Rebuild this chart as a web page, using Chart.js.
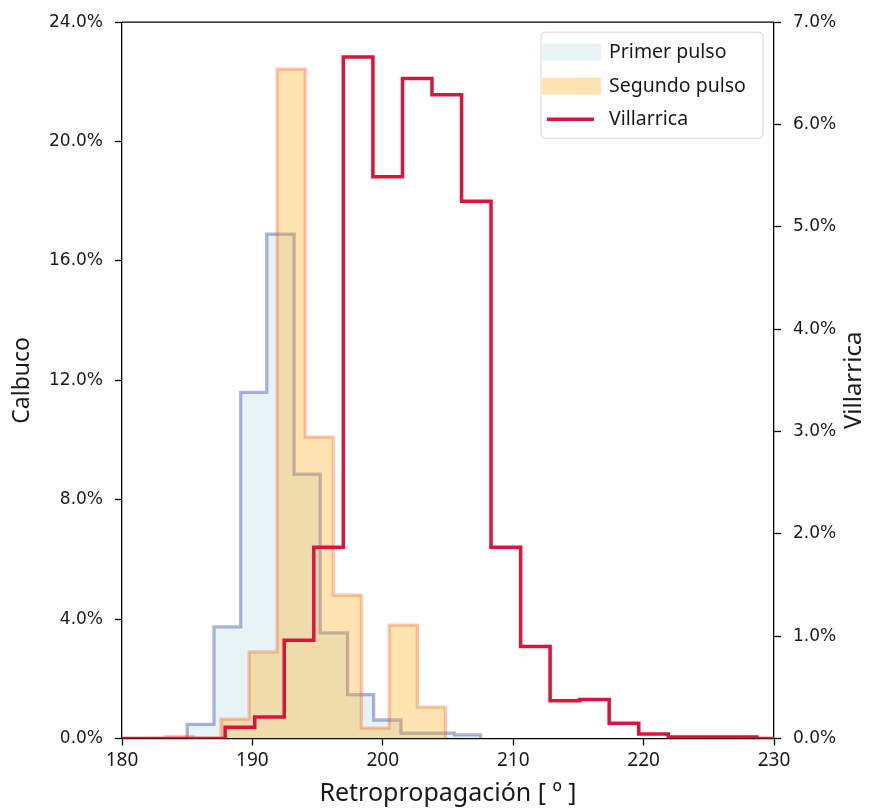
<!DOCTYPE html>
<html><head><meta charset="utf-8">
<script src="https://cdn.jsdelivr.net/npm/chart.js@4/dist/chart.umd.min.js"></script>
<style>html,body{margin:0;padding:0;background:#fff}#wrap{width:869px;height:809px;position:relative}</style>
</head><body><div id="wrap"><canvas id="c" width="869" height="809"></canvas></div>
<script>
// ---- data (percent) ----
const primerEdges  = [185.0, 187.05, 189.1, 191.1, 193.2, 195.2, 197.3, 199.3, 201.4, 203.4, 205.5, 207.5];
const primerValues = [0.47, 3.74, 11.6, 16.9, 8.86, 3.54, 1.47, 0.62, 0.18, 0.18, 0.12];

const segundoEdges  = [183.3, 185.45, 187.6, 189.75, 191.9, 194.05, 196.2, 198.35, 200.5, 202.65, 204.8];
const segundoValues = [0.06, 0.0, 0.65, 2.9, 22.43, 10.1, 4.8, 0.35, 3.8, 1.05];

const villarricaEdges  = [178.85, 181.12, 183.38, 185.65, 187.91, 190.18, 192.44, 194.71, 196.97, 199.24, 201.51, 203.77, 206.04, 208.30, 210.57, 212.83, 215.10, 217.36, 219.63, 221.89, 224.16, 226.42, 228.69, 230.95];
const villarricaValues = [0, 0, 0, 0, 0.11, 0.21, 0.96, 1.87, 6.66, 5.49, 6.45, 6.29, 5.25, 1.87, 0.90, 0.37, 0.38, 0.15, 0.045, 0.015, 0.015, 0.015, 0];

const xTicks = [180, 190, 200, 210, 220, 230];
const leftTicks = [0, 4, 8, 12, 16, 20, 24];
const rightTicks = [0, 1, 2, 3, 4, 5, 6, 7];
const labels = ['Primer pulso', 'Segundo pulso', 'Villarrica'];

function histPoints(edges, values) {
  const pts = [{x: edges[0], y: 0}];
  for (let i = 0; i < values.length; i++) pts.push({x: edges[i], y: values[i]});
  pts.push({x: edges[edges.length - 1], y: 0});
  return pts;
}

const TXT = '#1a1a1a';
const tickFont = {family: 'DejaVu Sans', size: 17};
const titleFamily = 'Noto Sans';

const overlay = {
  id: 'overlay',
  afterDraw(chart) {
    const ctx = chart.ctx, a = chart.chartArea;
    ctx.save();
    // top spine
    ctx.strokeStyle = '#000'; ctx.lineWidth = 1.3;
    ctx.beginPath(); ctx.moveTo(a.left, a.top); ctx.lineTo(a.right, a.top); ctx.stroke();
    // right axis title (reads bottom to top)
    ctx.fillStyle = TXT;
    ctx.font = '24px "' + titleFamily + '"';
    ctx.textAlign = 'center'; ctx.textBaseline = 'middle';
    ctx.translate(chart.width - 15, (a.top + a.bottom) / 2);
    ctx.rotate(-Math.PI / 2);
    ctx.fillText('Villarrica', 0, 0);
    ctx.restore();

    // legend
    ctx.save();
    const bx = a.right - 233, by = a.top + 10, bw = 222, bh = 106, r = 4;
    ctx.beginPath();
    ctx.moveTo(bx + r, by); ctx.lineTo(bx + bw - r, by); ctx.quadraticCurveTo(bx + bw, by, bx + bw, by + r);
    ctx.lineTo(bx + bw, by + bh - r); ctx.quadraticCurveTo(bx + bw, by + bh, bx + bw - r, by + bh);
    ctx.lineTo(bx + r, by + bh); ctx.quadraticCurveTo(bx, by + bh, bx, by + bh - r);
    ctx.lineTo(bx, by + r); ctx.quadraticCurveTo(bx, by, bx + r, by); ctx.closePath();
    ctx.fillStyle = 'rgba(255,255,255,0.85)'; ctx.fill();
    ctx.strokeStyle = '#d5d5d5'; ctx.lineWidth = 1; ctx.stroke();
    ctx.font = '19.5px "' + titleFamily + '"';
    ctx.textAlign = 'left'; ctx.textBaseline = 'middle'; ctx.fillStyle = TXT;
    const rows = [by + 20, by + 54, by + 87];
    ctx.fillStyle = 'rgba(173,216,230,0.3)'; ctx.fillRect(bx + 1, rows[0] - 8.5, 59, 17);
    ctx.fillStyle = 'rgba(255,165,0,0.3)'; ctx.fillRect(bx + 1, rows[1] - 8.5, 59, 17);
    ctx.strokeStyle = '#dc143c'; ctx.lineWidth = 3.5;
    ctx.beginPath(); ctx.moveTo(bx + 6, rows[2]); ctx.lineTo(bx + 53, rows[2]); ctx.stroke();
    ctx.fillStyle = TXT;
    labels.forEach((t, i) => ctx.fillText(t, bx + 68, rows[i]));
    ctx.restore();
  }
};

new Chart(document.getElementById('c'), {
  type: 'line',
  data: {
    datasets: [
      {label: labels[2], data: histPoints(villarricaEdges, villarricaValues), yAxisID: 'y2',
       borderColor: '#dc143c', borderWidth: 3.5, fill: false, stepped: true, pointRadius: 0, tension: 0, borderJoinStyle: 'miter'},
      {label: labels[1], data: histPoints(segundoEdges, segundoValues), yAxisID: 'y',
       borderColor: 'rgba(255,69,0,0.3)', backgroundColor: 'rgba(255,165,0,0.3)', borderWidth: 3.3,
       fill: 'origin', stepped: true, pointRadius: 0, tension: 0, borderJoinStyle: 'miter'},
      {label: labels[0], data: histPoints(primerEdges, primerValues), yAxisID: 'y',
       borderColor: 'rgba(0,0,150,0.3)', backgroundColor: 'rgba(173,216,230,0.3)', borderWidth: 3.3,
       fill: 'origin', stepped: true, pointRadius: 0, tension: 0, borderJoinStyle: 'miter'}
    ]
  },
  options: {
    responsive: false, animation: false, devicePixelRatio: 1,
    layout: {padding: {top: 22, left: 0, right: 0, bottom: 0}},
    plugins: {legend: {display: false}, tooltip: {enabled: false}},
    scales: {
      x: {
        type: 'linear', min: 180, max: 230,
        afterBuildTicks: s => { s.ticks = xTicks.map(v => ({value: v})); },
        afterFit: s => { s.height = 70.5; },
        grid: {drawOnChartArea: false, tickLength: 7, tickColor: '#000', tickWidth: 1.3},
        border: {color: '#000', width: 1.3},
        ticks: {color: TXT, font: {family: titleFamily, size: 19}, padding: 4, maxRotation: 0},
        title: {display: true, text: 'Retropropagación [ º ]', color: TXT, font: {family: titleFamily, size: 25}, padding: {top: 0, bottom: 0}}
      },
      y: {
        position: 'left', min: 0, max: 24,
        afterBuildTicks: s => { s.ticks = leftTicks.map(v => ({value: v})); },
        afterFit: s => { s.width = 122; },
        grid: {drawOnChartArea: false, tickLength: 7, tickColor: '#000', tickWidth: 1.3},
        border: {color: '#000', width: 1.3},
        ticks: {color: TXT, font: tickFont, padding: 12, callback: v => v.toFixed(1) + '%'},
        title: {display: true, text: 'Calbuco', color: TXT, font: {family: titleFamily, size: 23}, padding: {top: 9, bottom: 6}}
      },
      y2: {
        position: 'right', min: 0, max: 7,
        afterBuildTicks: s => { s.ticks = rightTicks.map(v => ({value: v})); },
        afterFit: s => { s.width = 95; },
        grid: {drawOnChartArea: false, tickLength: 7, tickColor: '#000', tickWidth: 1.3},
        border: {color: '#000', width: 1.3},
        ticks: {color: TXT, font: tickFont, padding: 12, callback: v => v.toFixed(1) + '%'}
      }
    }
  },
  plugins: [overlay]
});
</script>
</body></html>
